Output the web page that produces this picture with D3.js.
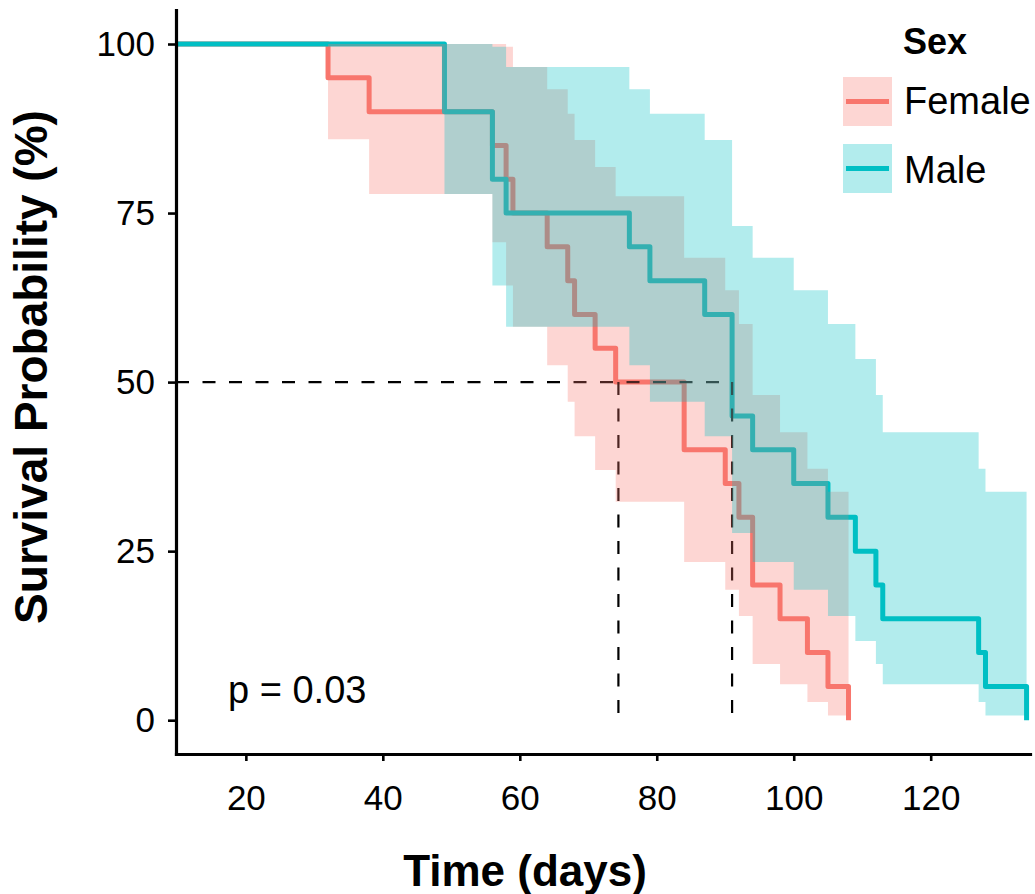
<!DOCTYPE html>
<html>
<head>
<meta charset="utf-8">
<script src="https://cdn.jsdelivr.net/npm/d3@7"></script>
<style>
  body { margin: 0; background: #fff; }
  svg text { font-family: 'Liberation Sans', Arial, sans-serif; fill: #000; }
</style>
</head>
<body>
<svg id="chart" width="1035" height="894"></svg>
<script>
// Kaplan-Meier estimates (%)
const femaleTimes = [0, 32, 38, 56, 58, 59, 64, 67, 68, 71, 74, 84, 90, 92, 94, 98, 102, 105, 108];
const femaleSurv  = [100, 95, 90, 85, 80, 75, 70, 65, 60, 55, 50, 40, 35, 30, 20, 15, 10, 5, 0];
const femaleUpper = [100, 100, 100, 100, 99.6, 96.6, 93.3, 89.7, 85.8, 81.8, 77.5, 68.4, 63.6, 58.6, 48.1, 42.6, 37.2, 33.8, null];
const femaleLower = [100, 85.9, 77.8, 70.7, 64.3, 58.2, 52.5, 47.1, 42.0, 37.0, 32.3, 23.4, 19.3, 15.4, 8.3, 5.3, 2.7, 0.7, null];

const maleTimes = [0, 49, 56, 58, 76, 79, 87, 91, 94, 100, 105, 109, 112, 113, 127, 128, 134];
const maleSurv  = [100, 90, 80, 75, 70, 65, 60, 45, 40, 35, 30, 25, 20, 15, 10, 5, 0];
const maleUpper = [100, 100, 99.6, 96.6, 93.3, 89.7, 85.8, 73.1, 68.4, 63.6, 58.6, 53.4, 48.1, 42.6, 37.2, 33.8, null];
const maleLower = [100, 77.8, 64.3, 58.2, 52.5, 47.1, 42.0, 27.7, 23.4, 19.3, 15.4, 11.7, 8.3, 5.3, 2.7, 0.7, null];

const groups = ['Female', 'Male'];
const groupColors = ['#F8766D', '#00BFC4'];
const medianTimes = [74.4, 91];
const medianLevel = 50;
const xTicks = [20, 40, 60, 80, 100, 120];
const yTicks = [0, 25, 50, 75, 100];
const pText = 'p = 0.03';

const svg = d3.select('#chart');

const x = d3.scaleLinear().domain([9.8, 134.5]).range([176, 1030]);
const y = d3.scaleLinear().domain([-5, 105]).range([754, 10.2]);

const series = [
  { name: groups[0], color: groupColors[0], times: femaleTimes, surv: femaleSurv, upper: femaleUpper, lower: femaleLower },
  { name: groups[1], color: groupColors[1], times: maleTimes, surv: maleSurv, upper: maleUpper, lower: maleLower },
];
series.forEach((s) => {
  s.points = s.times.map((t, i) => ({ t, s: s.surv[i], up: s.upper[i], lo: s.lower[i] }));
  // band stops at the last death, keep last values until then
  const band = s.points.filter((d) => d.up != null);
  const last = band[band.length - 1];
  band.push({ t: s.times[s.times.length - 1], up: last.up, lo: last.lo });
  s.band = band;
});

svg.append('clipPath').attr('id', 'panel')
  .append('rect')
  .attr('x', x.range()[0]).attr('y', y.range()[1])
  .attr('width', x.range()[1] - x.range()[0])
  .attr('height', y.range()[0] - y.range()[1]);

const plot = svg.append('g').attr('clip-path', 'url(#panel)');

const line = d3.line()
  .curve(d3.curveStepAfter)
  .x((d) => x(d.t))
  .y((d) => y(d.s));

const area = d3.area()
  .curve(d3.curveStepAfter)
  .x((d) => x(d.t))
  .y0((d) => y(d.lo))
  .y1((d) => y(d.up));

// step lines
series.forEach((s) => {
  plot.append('path')
    .datum(s.points)
    .attr('d', line)
    .attr('fill', 'none')
    .attr('stroke', s.color)
    .attr('stroke-width', 5)
    .attr('stroke-linejoin', 'round');
});

// median lines
plot.append('line')
  .attr('x1', x.range()[0])
  .attr('x2', x(d3.max(medianTimes)))
  .attr('y1', y(medianLevel))
  .attr('y2', y(medianLevel))
  .attr('stroke', '#000')
  .attr('stroke-width', 2.2)
  .attr('stroke-dasharray', '13,13.5');

medianTimes.forEach((m) => {
  plot.append('line')
    .attr('x1', x(m)).attr('x2', x(m))
    .attr('y1', y(medianLevel)).attr('y2', y(0))
    .attr('stroke', '#000')
    .attr('stroke-width', 2.2)
    .attr('stroke-dasharray', '13,13.5');
});

// confidence bands on top
series.forEach((s) => {
  plot.append('path')
    .datum(s.band)
    .attr('d', area)
    .attr('fill', s.color)
    .attr('fill-opacity', 0.3)
    .attr('stroke', 'none');
});

// axes
const xAxis = svg.append('g')
  .attr('transform', `translate(0,${y.range()[0]})`)
  .call(d3.axisBottom(x).tickValues(xTicks).tickSize(7).tickSizeOuter(0).tickPadding(24));

const yAxis = svg.append('g')
  .attr('transform', `translate(${x.range()[0]},0)`)
  .call(d3.axisLeft(y).tickValues(yTicks).tickSize(8).tickSizeOuter(0).tickPadding(13));

[xAxis, yAxis].forEach((a) => {
  a.select('.domain').attr('stroke', '#000').attr('stroke-width', 3.2).attr('stroke-linecap', 'square');
  a.selectAll('.tick line').attr('stroke', '#000').attr('stroke-width', 2.6);
  a.selectAll('.tick text')
    .attr('fill', '#000')
    .style('font-family', "'Liberation Sans', Arial, sans-serif")
    .style('font-size', '35px');
});

// axis titles
svg.append('text')
  .attr('x', 525)
  .attr('y', 886)
  .attr('text-anchor', 'middle')
  .style('font-size', '44px')
  .style('font-weight', 'bold')
  .text('Time (days)');

svg.append('text')
  .attr('transform', 'translate(47,367) rotate(-90)')
  .attr('text-anchor', 'middle')
  .style('font-size', '46px')
  .style('font-weight', 'bold')
  .text('Survival Probability (%)');

// p value
svg.append('text')
  .attr('x', 228)
  .attr('y', 703)
  .style('font-size', '38px')
  .text(pText);

// legend
const legend = svg.append('g');
legend.append('text')
  .attr('x', 903)
  .attr('y', 54)
  .style('font-size', '36px')
  .style('font-weight', 'bold')
  .text('Sex');

series.forEach((s, i) => {
  const g = legend.append('g').attr('transform', `translate(0,${i * 67})`);
  g.append('rect')
    .attr('x', 843).attr('y', 77)
    .attr('width', 49).attr('height', 49)
    .attr('fill', s.color)
    .attr('fill-opacity', 0.3);
  g.append('line')
    .attr('x1', 846).attr('x2', 889)
    .attr('y1', 101.5).attr('y2', 101.5)
    .attr('stroke', s.color)
    .attr('stroke-width', 5);
  g.append('text')
    .attr('x', 904)
    .attr('y', 114 + i * 2)
    .style('font-size', '38px')
    .text(s.name);
});
</script>
</body>
</html>
